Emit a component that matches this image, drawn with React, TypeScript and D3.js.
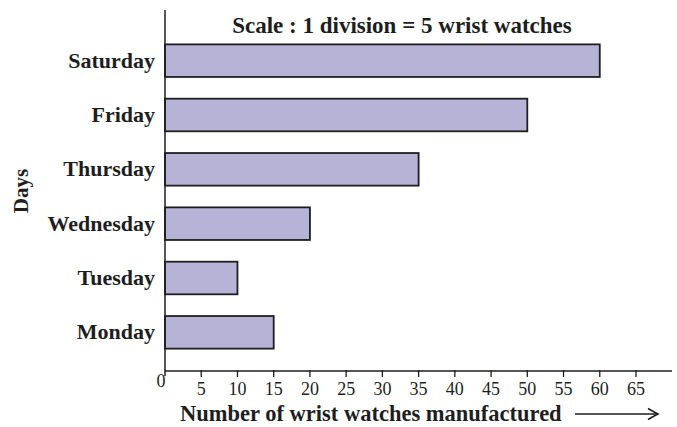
import React from "react";
import * as d3 from "d3";

const days = ["Saturday", "Friday", "Thursday", "Wednesday", "Tuesday", "Monday"];
const watches = [60, 50, 35, 20, 10, 15];
const xTicks = [0, 5, 10, 15, 20, 25, 30, 35, 40, 45, 50, 55, 60, 65];
const title = "Scale : 1 division = 5 wrist watches";
const xTitle = "Number of wrist watches manufactured";
const yTitle = "Days";

const W = 677;
const H = 427;
const FONT = "'Liberation Serif', 'Times New Roman', serif";

export default function App() {
  const x = d3.scaleLinear().domain([0, 65]).range([165, 636]);
  const y = d3.scaleBand<string>().domain(days).range([33.5, 359.5]).paddingInner(0.4).paddingOuter(0.2);
  const axisY = 371;
  const ink = "#1e1e1e";
  return (
    <svg width={W} height={H} style={{ position: "absolute", left: 0, top: 0, background: "#fff" }}>
      {days.map((d, i) => (
        <rect key={d} x={x(0)} y={y(d)!} width={x(watches[i]) - x(0)} height={y.bandwidth()}
          fill="#b6b3d7" stroke={ink} strokeWidth={1.8} />
      ))}
      <line x1={x(0)} x2={x(0)} y1={10} y2={376} stroke={ink} strokeWidth={1.5} />
      <line x1={x(0)} x2={672} y1={axisY} y2={axisY} stroke={ink} strokeWidth={1.5} />
      {xTicks.filter(t => t > 0).map(t => (
        <line key={t} x1={x(t)} x2={x(t)} y1={axisY - 1} y2={axisY + 6} stroke={ink} strokeWidth={1.3} />
      ))}
      {xTicks.map(t => (
        <text key={t} x={t === 0 ? x(0) - 4 : x(t)} y={t === 0 ? 387 : 395} textAnchor="middle"
          fontFamily={FONT} fontSize={18} fill={ink}>{t}</text>
      ))}
      {days.map(d => (
        <text key={d} x={155} y={y(d)! + y.bandwidth() / 2 + 7} textAnchor="end"
          fontFamily={FONT} fontWeight="bold" fontSize={22} fill={ink}>{d}</text>
      ))}
      <text x={402} y={33} textAnchor="middle" fontFamily={FONT} fontWeight="bold" fontSize={23} fill={ink}>{title}</text>
      <text transform="translate(28,191) rotate(-90)" textAnchor="middle" fontFamily={FONT} fontWeight="bold" fontSize={21} fill={ink}>{yTitle}</text>
      <text x={180} y={421} fontFamily={FONT} fontWeight="bold" fontSize={22.5} fill={ink}>{xTitle}</text>
      <line x1={575} x2={656} y1={414} y2={414} stroke={ink} strokeWidth={1.5} />
      <path d="M648,408.5 Q654,412 658,414 Q654,416 648,419.5" fill="none" stroke={ink} strokeWidth={1.5} />
    </svg>
  );
}
